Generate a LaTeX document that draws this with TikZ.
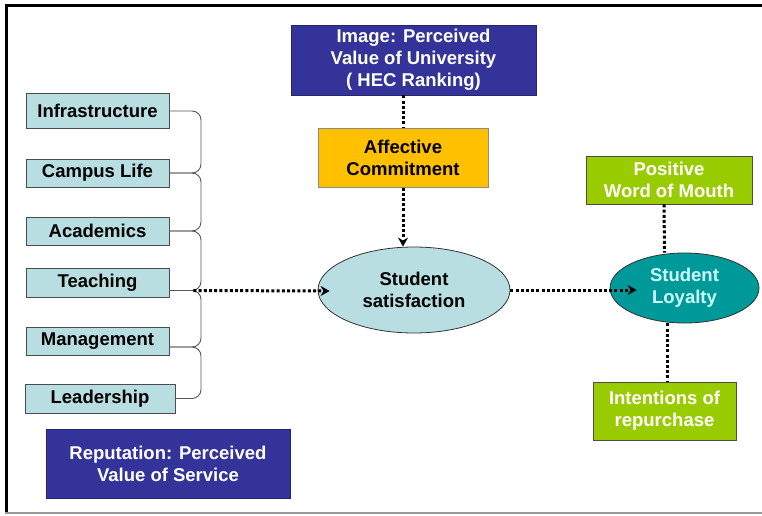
\documentclass[tikz,border=0pt]{standalone}
\usepackage{fontspec}
\setmainfont{Liberation Sans}
\usetikzlibrary{shapes.geometric,arrows.meta,calc}
\definecolor{navy}{HTML}{333399}
\definecolor{paleteal}{HTML}{B9DEE1}
\definecolor{amber}{HTML}{FFC000}
\definecolor{teal}{HTML}{009999}
\definecolor{lime}{HTML}{99CC00}
\definecolor{icecyan}{HTML}{CCFFFF}
\begin{document}
\begin{tikzpicture}[x=1pt,y=-1pt,
  every node/.style={font=\fontsize{18.5}{22}\selectfont\bfseries, align=center, inner sep=0pt},
  factorbox/.style={draw=black!70, line width=0.8pt, fill=paleteal, minimum width=143pt, minimum height=28pt},
  valuebox/.style={draw=navy!70!black, line width=0.8pt, fill=navy, text=white},
  outcomebox/.style={draw=black!70, line width=0.8pt, fill=lime, text=white},
  brk/.style={draw=black!65, line width=0.9pt, rounded corners=9pt},
  dotline/.style={line width=3pt, dash pattern=on 3pt off 2.2pt},
  dotarrow/.style={dotline, -{Stealth[length=9pt,width=10pt]}}
]
\useasboundingbox (0,0) rectangle (762,516);
\fill[white] (0,0) rectangle (762,516);

% page frame
\draw[line width=3pt] (5,6) -- (762,6);
\draw[line width=3pt] (6.5,5) -- (6.5,513);
\draw[black!40, line width=1.5pt] (5,513) -- (762,513);

% value boxes
\node[valuebox, minimum width=245pt, minimum height=70pt] (img) at (413.5,60)
  {Image: Perceived\\Value of University\\( HEC Ranking)};
\node[valuebox, minimum width=244pt, minimum height=69pt] (rep) at (168,463.5)
  {Reputation: Perceived\\Value of Service};

% affective commitment
\node[draw=black!45, line width=1pt, fill=amber, minimum width=170pt, minimum height=59pt] (aff) at (403,157.5)
  {Affective\\Commitment};

% central constructs
\node[ellipse, draw=black!80, line width=0.8pt, fill=paleteal, minimum width=192pt, minimum height=86pt] (sat) at (414,290)
  {Student\\satisfaction};
\node[ellipse, draw=black!80, line width=0.8pt, fill=teal, text=icecyan, minimum width=149pt, minimum height=70pt] (loy) at (684.5,288)
  {Student\\Loyalty};

% loyalty outcomes
\node[outcomebox, minimum width=166pt, minimum height=48pt] (wom) at (669,180) {Positive\\Word of Mouth};
\node[outcomebox, minimum width=143pt, minimum height=58pt] (ire) at (664.5,411) {Intentions of\\repurchase};

% service factors
\node[factorbox, minimum height=35pt] (infra) at (97.5,111) {Infrastructure};
\node[factorbox] (camp) at (97.5,173) {Campus Life};
\node[factorbox] (acad) at (97.5,231) {Academics};
\node[factorbox, minimum height=29pt] (teach) at (97.5,282.5) {Teaching};
\node[factorbox] (mgmt) at (97.5,341) {Management};
\node[factorbox, minimum width=150pt, minimum height=29pt] (lead) at (100,398.5) {Leadership};

% brackets joining the factors
\coordinate (bx) at (201,0);
\coordinate (tj) at ([yshift=-8pt]teach.east);
\coordinate (mj) at ([yshift=-6pt]mgmt.east);
\coordinate (tstart) at ([xshift=24pt]tj);
\draw[brk] (infra.east) -- (infra.east -| bx) -- (camp.east -| bx) -- (camp.east);
\draw[brk] (camp.east) -- (camp.east -| bx) -- (acad.east -| bx) -- (acad.east);
\draw[brk] (acad.east) -- (acad.east -| bx) -- (tj -| bx) -- (tj);
\draw[brk] (tj) -- (tj -| bx) -- (mj -| bx) -- (mj);
\draw[brk] (mj) -- (mj -| bx) -- (lead.east -| bx) -- (lead.east);

% dotted links
\draw[dotline] (img.south -| aff.north) -- (aff.north);
\draw[dotarrow] (aff.south) -- (aff.south |- sat.north);
\draw[dotarrow] (tstart) -- ($(sat.west)+(12,1)$);
\draw[dotarrow] (sat.east) -- ($(loy.west)+(27,2)$);
\draw[dotline] ([xshift=-5pt]wom.south) -- ([xshift=-20pt]loy.north);
\draw[dotline] ([xshift=-17.5pt]loy.south) -- ([xshift=2.5pt]ire.north);
\end{tikzpicture}
\end{document}
